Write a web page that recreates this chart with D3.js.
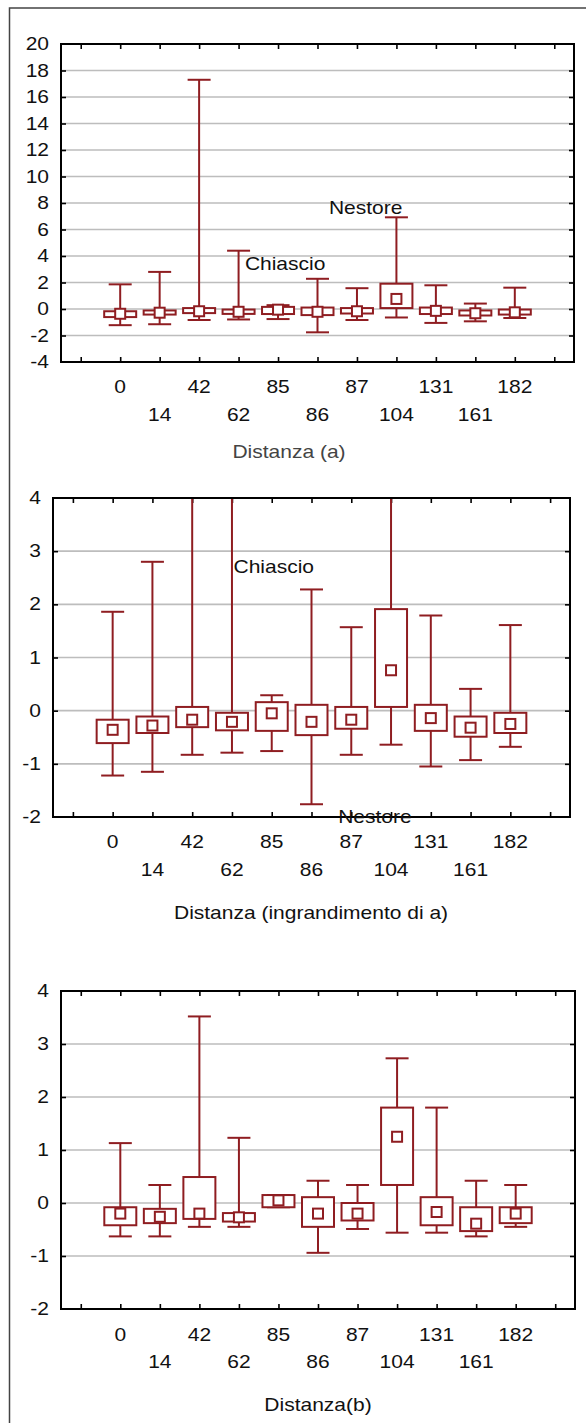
<!DOCTYPE html>
<html>
<head>
<meta charset="utf-8">
<script src="https://cdn.jsdelivr.net/npm/d3@7"></script>
<style>
  body { margin: 0; background: #fff; }
  text { font-family: "Liberation Sans", Arial, Helvetica, sans-serif; }
</style>
</head>
<body>
<svg id="chart" width="586" height="1423"></svg>
<script>
// categories (distance)
const categories = ["0", "14", "42", "62", "85", "86", "87", "104", "131", "161", "182"]

// series (a) : whiskers, box and median
const aMax = [1.86, 2.8, 17.3, 4.4, 0.29, 2.28, 1.57, 6.92, 1.79, 0.41, 1.61]
const aQ3  = [-0.17, -0.11, 0.07, -0.04, 0.16, 0.11, 0.07, 1.91, 0.11, -0.11, -0.04]
const aMed = [-0.36, -0.28, -0.17, -0.21, -0.05, -0.21, -0.17, 0.76, -0.14, -0.32, -0.25]
const aQ1  = [-0.61, -0.42, -0.31, -0.37, -0.38, -0.46, -0.34, 0.07, -0.38, -0.49, -0.42]
const aMin = [-1.22, -1.15, -0.83, -0.79, -0.76, -1.76, -0.83, -0.64, -1.05, -0.93, -0.68]

// series (b)
const bMax = [1.13, 0.34, 3.52, 1.23, 0.15, 0.42, 0.34, 2.73, 1.8, 0.42, 0.34]
const bQ3  = [-0.08, -0.11, 0.49, -0.19, 0.15, 0.11, 0.0, 1.8, 0.11, -0.08, -0.08]
const bMed = [-0.2, -0.26, -0.2, -0.27, 0.05, -0.2, -0.2, 1.25, -0.17, -0.39, -0.2]
const bQ1  = [-0.42, -0.38, -0.3, -0.35, -0.08, -0.45, -0.33, 0.34, -0.42, -0.53, -0.38]
const bMin = [-0.63, -0.63, -0.45, -0.45, -0.08, -0.94, -0.49, -0.56, -0.56, -0.63, -0.45]

// tick labels
const ticksFull = [-4, -2, 0, 2, 4, 6, 8, 10, 12, 14, 16, 18, 20]
const ticksZoom = [-2, -1, 0, 1, 2, 3, 4]

// annotations (category index, value)
const notesA = [{t: "Nestore", i: 5.29, v: 7.6}, {t: "Chiascio", i: 3.16, v: 3.43}]
const notesZoom = [{t: "Chiascio", i: 3.04, v: 2.71}, {t: "Nestore", i: 5.67, v: -1.99}]

const RED = "#8f1d21"
const SX = 1.2 // source text is a bit wider than Arial
const FS = 17.5

const svg = d3.select("#chart")

// outer frame (left and top edges)
svg.append("path")
  .attr("d", "M9.5,1423V8H586")
  .attr("fill", "none").attr("stroke", "#444").attr("stroke-width", 1.5)

const rows = (mx, q3, md, q1, mn) => categories.map((c, i) => ({c, i, max: mx[i], q3: q3[i], med: md[i], q1: q1[i], min: mn[i]}))

const panels = [
  {id: "a", data: rows(aMax, aQ3, aMed, aQ1, aMin), ticks: ticksFull, notes: notesA,
   left: 61, right: 574, top: 44, bottom: 362, labelX: 49, row1: 387, row2: 415,
   titleX: 289, titleY: 452, title: "Distanza (a)", titleColor: "#444"},
  {id: "z", data: rows(aMax, aQ3, aMed, aQ1, aMin), ticks: ticksZoom, notes: notesZoom,
   left: 53, right: 570, top: 498, bottom: 817, labelX: 41, row1: 842, row2: 870,
   titleX: 311, titleY: 913, title: "Distanza (ingrandimento di a)", titleColor: "#111"},
  {id: "b", data: rows(bMax, bQ3, bMed, bQ1, bMin), ticks: ticksZoom, notes: [],
   left: 61, right: 575, top: 991, bottom: 1309, labelX: 49, row1: 1335, row2: 1362,
   titleX: 318, titleY: 1405, title: "Distanza(b)", titleColor: "#111"}
]

function stretchedText(g, x, y, txt, anchor, color) {
  return g.append("text")
    .attr("transform", `translate(${x},${y}) scale(${SX},1)`)
    .attr("text-anchor", anchor)
    .attr("dy", "0.35em")
    .attr("font-size", FS)
    .attr("fill", color || "#111")
    .text(txt)
}

panels.forEach(p => {
  const g = svg.append("g")
  const x = d3.scaleLinear().domain([-1.5, 11.5]).range([p.left, p.right])
  const y = d3.scaleLinear().domain(d3.extent(p.ticks)).range([p.bottom, p.top])
  const slots = d3.range(-1, 12)
  const inner = p.ticks.slice(1, -1)

  // gridlines
  g.selectAll(".grid").data(inner).join("line")
    .attr("x1", p.left).attr("x2", p.right)
    .attr("y1", d => y(d)).attr("y2", d => y(d))
    .attr("stroke", "#bdbdbd").attr("stroke-width", 1.6)

  // inward ticks on all four sides
  const axes = [
    [d3.axisBottom(x).tickValues(slots), `translate(0,${p.top})`],
    [d3.axisTop(x).tickValues(slots), `translate(0,${p.bottom})`],
    [d3.axisRight(y).tickValues(inner), `translate(${p.left},0)`],
    [d3.axisLeft(y).tickValues(inner), `translate(${p.right},0)`]
  ]
  axes.forEach(([ax, tr]) => {
    const a = g.append("g").attr("transform", tr)
      .call(ax.tickSize(5).tickSizeOuter(0).tickFormat(""))
    a.select(".domain").remove()
    a.selectAll("line").attr("stroke", "#000").attr("stroke-width", 1.6)
  })

  // boxes, clipped to the plot area
  const clipId = "clip-" + p.id
  g.append("clipPath").attr("id", clipId).append("rect")
    .attr("x", p.left).attr("y", p.top)
    .attr("width", p.right - p.left).attr("height", p.bottom - p.top)

  const marks = g.append("g").attr("clip-path", `url(#${clipId})`)
    .attr("stroke", RED).attr("stroke-width", 2).attr("fill", "none")

  const boxW = 32, capW = 23, sq = 10
  const item = marks.selectAll(".item").data(p.data).join("g")

  item.append("line")
    .attr("x1", d => x(d.i)).attr("x2", d => x(d.i))
    .attr("y1", d => y(d.max)).attr("y2", d => y(d.min))
  item.append("line")
    .attr("x1", d => x(d.i) - capW / 2).attr("x2", d => x(d.i) + capW / 2)
    .attr("y1", d => y(d.max)).attr("y2", d => y(d.max))
  item.append("line")
    .attr("x1", d => x(d.i) - capW / 2).attr("x2", d => x(d.i) + capW / 2)
    .attr("y1", d => y(d.min)).attr("y2", d => y(d.min))
  item.append("rect")
    .attr("x", d => x(d.i) - boxW / 2).attr("width", boxW)
    .attr("y", d => y(d.q3)).attr("height", d => Math.max(0.5, y(d.q1) - y(d.q3)))
    .attr("fill", "#fff")
  item.append("rect")
    .attr("x", d => x(d.i) - sq / 2).attr("width", sq)
    .attr("y", d => y(d.med) - sq / 2).attr("height", sq)
    .attr("fill", "#fff")

  // plot border
  g.append("rect")
    .attr("x", p.left).attr("y", p.top)
    .attr("width", p.right - p.left).attr("height", p.bottom - p.top)
    .attr("fill", "none").attr("stroke", "#000").attr("stroke-width", 2)

  // y labels
  p.ticks.forEach(t => stretchedText(g, p.labelX, y(t), String(t), "end"))

  // x labels, alternating rows
  p.data.forEach(d => stretchedText(g, x(d.i), d.i % 2 ? p.row2 : p.row1, d.c, "middle"))

  // axis title
  stretchedText(g, p.titleX, p.titleY, p.title, "middle", p.titleColor)

  // annotations
  p.notes.forEach(n => stretchedText(g, x(n.i), y(n.v), n.t, "start"))
})
</script>
</body>
</html>
